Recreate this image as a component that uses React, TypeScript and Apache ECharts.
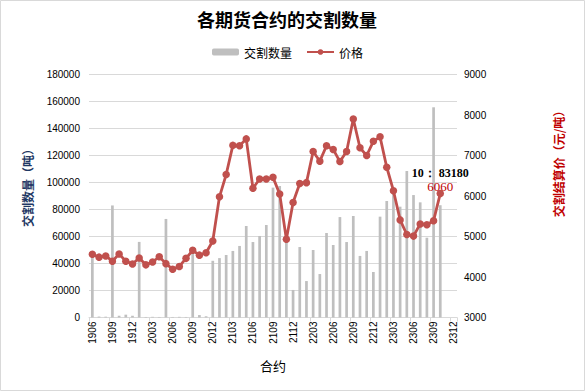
import React, { useEffect, useRef } from 'react';
import * as echarts from 'echarts';

const categories = [
  '1906', '1907', '1908', '1909', '1910', '1911', '1912',
  '2001', '2002', '2003', '2004', '2005', '2006', '2007', '2008', '2009', '2010', '2011', '2012',
  '2101', '2102', '2103', '2104', '2105', '2106', '2107', '2108', '2109', '2110', '2111', '2112',
  '2201', '2202', '2203', '2204', '2205', '2206', '2207', '2208', '2209', '2210', '2211', '2212',
  '2301', '2302', '2303', '2304', '2305', '2306', '2307', '2308', '2309', '2310', '2311', '2312',
];

// 交割数量（吨）
const deliveryQty = [
  46000, 700, 600, 83000, 1300, 2100, 1300,
  56000, 400, 500, 400, 73000, 400, 500, 400, 48000, 1800, 900, 42000,
  44000, 46300, 49300, 53000, 67800, 55900, 60400, 68500, 96200, 97400, 60000, 20400,
  52200, 27000, 50000, 32200, 62600, 53700, 74400, 55900, 75200, 45600, 49300, 33700,
  74700, 86300, 92000, 82100, 108500, 90700, 85300, 59100, 155700, 83180,
];

// 交割结算价（元/吨）
const price = [
  4560, 4490, 4520, 4390, 4570, 4390, 4320,
  4470, 4300, 4370, 4500, 4330, 4190, 4260, 4460, 4660, 4540, 4600, 4890,
  5980, 6530, 7250, 7240, 7410, 6190, 6420, 6420, 6460, 6050, 4930, 5840,
  6310, 6330, 7100, 6860, 7240, 7150, 6850, 7100, 7900, 7190, 7000, 7350,
  7460, 6710, 6130, 5410, 5050, 5010, 5310, 5290, 5390, 6060,
];

const leftTicks = { min: 0, max: 180000, interval: 20000 };
const rightTicks = { min: 3000, max: 9000, interval: 1000 };

export default function App() {
  const ref = useRef<HTMLDivElement>(null);
  useEffect(() => {
    const chart = echarts.init(ref.current!, null, { renderer: 'svg' });
    const last = price.length - 1;
    const lastCat = categories[last];
    const monthLabel = lastCat.slice(2);
    chart.setOption({
      animation: false,
      backgroundColor: '#ffffff',
      textStyle: { fontFamily: 'Liberation Sans, "Noto Sans CJK SC", sans-serif' },
      title: {
        text: '各期货合约的交割数量',
        left: 197,
        top: 10,
        padding: 0,
        textStyle: { fontSize: 18, fontWeight: 'bold', color: '#000', fontFamily: '"Noto Sans CJK SC", sans-serif' },
      },
      legend: {
        left: 212,
        top: 46,
        padding: 0,
        itemWidth: 27,
        itemHeight: 7,
        itemGap: 14,
        textStyle: { fontSize: 12, color: '#000', fontFamily: '"Noto Sans CJK SC", sans-serif' },
        data: ['交割数量', '价格'],
      },
      grid: { left: 89, right: 128, top: 74.5, bottom: 73.5 },
      xAxis: {
        type: 'category',
        data: categories,
        name: '合约',
        nameLocation: 'middle',
        nameGap: 41,
        nameTextStyle: { fontSize: 13, color: '#000', fontFamily: '"Noto Sans CJK SC", sans-serif' },
        axisLine: { lineStyle: { color: '#d9d9d9' } },
        axisTick: { show: true, interval: 2, length: 4, lineStyle: { color: '#d9d9d9' } },
        axisLabel: { interval: 2, rotate: 90, fontSize: 10, color: '#000', margin: 4 },
        splitLine: { show: false },
      },
      yAxis: [
        {
          type: 'value',
          ...leftTicks,
          axisLine: { show: false },
          axisTick: { show: false },
          axisLabel: { fontSize: 10, color: '#000', margin: 9, formatter: (v: number) => String(v) },
          splitLine: { lineStyle: { color: '#d9d9d9' } },
        },
        {
          type: 'value',
          position: 'right',
          ...rightTicks,
          axisLine: { show: false },
          axisTick: { show: false },
          axisLabel: { fontSize: 10, color: '#000', margin: 7, formatter: (v: number) => String(v) },
          splitLine: { show: false },
        },
      ],
      series: [
        {
          name: '交割数量',
          type: 'bar',
          yAxisIndex: 0,
          barWidth: 2.7,
          itemStyle: { color: '#BFBFBF' },
          data: deliveryQty,
        },
        {
          name: '价格',
          type: 'line',
          yAxisIndex: 1,
          symbol: 'circle',
          symbolSize: 7.5,
          showSymbol: true,
          showAllSymbol: true,
          lineStyle: { color: '#C0504D', width: 2.8 },
          itemStyle: { color: '#C0504D' },
          data: price.map((v, i) =>
            i === last
              ? {
                  value: v,
                  label: {
                    show: true,
                    position: 'top',
                    distance: -3,
                    formatter: () => `{a|${monthLabel}： ${deliveryQty[last]}}\n{b|${price[last]}}`,
                    rich: {
                      a: { fontFamily: '"Liberation Serif", serif', fontWeight: 'bold', fontSize: 12, color: '#000', lineHeight: 14 },
                      b: { fontFamily: '"Liberation Serif", serif', fontSize: 13, color: '#C00000', lineHeight: 13 },
                    },
                  },
                }
              : v
          ),
        },
      ],
      graphic: [
        {
          type: 'rect',
          silent: true,
          z: -10,
          shape: { x: 0.5, y: 0.5, width: 584, height: 390 },
          style: { fill: 'none', stroke: '#d9d9d9', lineWidth: 1 },
        },
        {
          type: 'text',
          x: 27,
          y: 185,
          rotation: Math.PI / 2,
          style: {
            text: '交割数量（吨）',
            fontSize: 12,
            fontWeight: 'bold',
            fill: '#1F3864',
            align: 'center',
            verticalAlign: 'middle',
            fontFamily: '"Noto Sans CJK SC", sans-serif',
          },
        },
        {
          type: 'text',
          x: 558,
          y: 161,
          rotation: Math.PI / 2,
          style: {
            text: '交割结算价（元/吨）',
            fontSize: 12,
            fontWeight: 'bold',
            fill: '#C00000',
            align: 'center',
            verticalAlign: 'middle',
            fontFamily: '"Noto Sans CJK SC", sans-serif',
          },
        },
      ],
    });
    return () => chart.dispose();
  }, []);
  return <div ref={ref} style={{ position: 'absolute', left: 0, top: 0, width: 585, height: 391 }} />;
}
